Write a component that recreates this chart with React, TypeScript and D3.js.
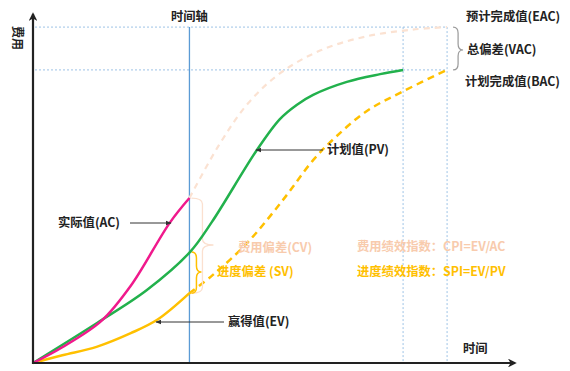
import React from 'react';
import * as d3 from 'd3';

const W = 570;
const H = 371;

// time (0..99) and cost (0..100) values
const pvTime = [0, 13.1, 23.3, 32.1, 36.6, 45.8, 50.5, 54, 57.3, 64.2, 71, 75.7];
const pvCost = [0, 11.4, 20.8, 31.6, 40.2, 60.7, 69.5, 73.6, 76.4, 80.1, 82.3, 83.5];

const acTime = [0, 6, 14, 20, 28, 32];
const acCost = [0, 4.5, 12, 22, 40, 47];

const evTime = [0, 6, 13, 20, 25.4, 32];
const evCost = [0, 2.2, 4.6, 8.5, 12.3, 19.9];

const evForecastTime = [32, 36.8, 43.8, 51.1, 57.3, 62, 68.3, 75.7, 84.7];
const evForecastCost = [19.9, 25.1, 34.2, 46.4, 57.8, 64.5, 71.8, 77.4, 83.5];

const eacForecastTime = [32, 38, 44, 50.5, 58.7, 68, 77.7, 84.7];
const eacForecastCost = [47, 62, 74, 82.5, 89, 93, 95, 95.7];

const nowTime = 32;
const bacTime = 75.7;
const eacTime = 84.7;
const bacCost = 83.5;
const eacCost = 95.7;

const rightLabels = ['预计完成值(EAC)', '总偏差(VAC)', '计划完成值(BAC)'];

const font = '"Noto Sans CJK SC", "Noto Sans", sans-serif';

const x = d3.scaleLinear().domain([0, 99]).range([33, 517]);
const y = d3.scaleLinear().domain([0, 100]).range([363, 12]);

const zip = (t: number[], v: number[]) => t.map((d, i) => [d, v[i]] as [number, number]);

const line = d3
  .line<[number, number]>()
  .x(d => x(d[0]))
  .y(d => y(d[1]))
  .curve(d3.curveCatmullRom.alpha(0.5));

// curly brace opening to the left, tip to the right
const brace = (x0: number, y0: number, y1: number, w: number, ym: number) => {
  const xm = x0 + w / 2;
  const r = Math.min(6, (y1 - y0) / 4);
  return `M${x0},${y0} Q${xm},${y0} ${xm},${y0 + r} L${xm},${ym - r} Q${xm},${ym} ${x0 + w},${ym}` +
    ` Q${xm},${ym} ${xm},${ym + r} L${xm},${y1 - r} Q${xm},${y1} ${x0},${y1}`;
};

const Label = ({ x: lx, y: ly, children, fill = '#222', anchor = 'start', size = 12.3 }: any) => (
  <text x={lx} y={ly} dy="0.35em" fill={fill} fontSize={size} fontWeight="bold" fontFamily={font} textAnchor={anchor}>
    {children}
  </text>
);

export default function App() {
  const xNow = x(nowTime);
  const xBac = x(bacTime);
  const xEac = x(eacTime);
  const yBac = y(bacCost);
  const yEac = y(eacCost);
  const yAcEnd = y(acCost[acCost.length - 1]);
  const yPvNow = y(pvCost[3]);
  const yEvEnd = y(evCost[evCost.length - 1]);

  return (
    <svg width={W} height={H} style={{ position: 'absolute', left: 0, top: 0, background: '#fff' }}>
      <defs>
        <marker id="arr" viewBox="0 0 10 10" refX="9" refY="5" markerWidth="6" markerHeight="6" orient="auto-start-reverse">
          <path d="M0,1 L10,5 L0,9 z" fill="#333" />
        </marker>
        <marker id="axarr" viewBox="0 0 10 10" refX="8" refY="5" markerWidth="4" markerHeight="4" orient="auto">
          <path d="M0,0 L10,5 L0,10 L3,5 z" fill="#222" />
        </marker>
      </defs>

      {/* reference dotted lines */}
      <g stroke="#9dc3e6" strokeWidth={1} strokeDasharray="2,2" fill="none">
        <line x1={35} x2={xEac} y1={yEac} y2={yEac} />
        <line x1={35} x2={xEac} y1={yBac} y2={yBac} />
        <line x1={xBac} x2={xBac} y1={yEac} y2={y(0)} />
        <line x1={xEac} x2={xEac} y1={yEac} y2={y(0)} />
      </g>

      {/* time-now line */}
      <line x1={xNow} x2={xNow} y1={yEac} y2={y(0)} stroke="#5b9bd5" strokeWidth={1.3} />
      <Label x={xNow} y={17} anchor="middle">时间轴</Label>

      {/* forecasts */}
      <path d={line(zip(eacForecastTime, eacForecastCost)) || ''} fill="none" stroke="#fbe2d2" strokeWidth={2.2} strokeDasharray="6,5" />
      <path d={line(zip(evForecastTime, evForecastCost)) || ''} fill="none" stroke="#ffc000" strokeWidth={2.5} strokeDasharray="7,5" />

      {/* braces */}
      <path d={brace(xNow + 2, yAcEnd, yEvEnd, 22, 245)} fill="none" stroke="#fbe0cf" strokeWidth={1.3} />
      <path d={brace(xNow + 2, yPvNow, yEvEnd, 10, 272)} fill="none" stroke="#ffc000" strokeWidth={1.5} />
      <path d={brace(xEac + 6, yEac, yBac, 10, 50)} fill="none" stroke="#999" strokeWidth={1.2} />

      {/* main curves */}
      <path d={line(zip(evTime, evCost)) || ''} fill="none" stroke="#ffc000" strokeWidth={2.5} />
      <path d={line(zip(pvTime, pvCost)) || ''} fill="none" stroke="#22b14c" strokeWidth={2.5} />
      <path d={line(zip(acTime, acCost)) || ''} fill="none" stroke="#f0198c" strokeWidth={2.5} />

      {/* axes */}
      <line x1={x(0)} x2={x(0)} y1={y(0) + 1} y2={y(100) + 2} stroke="#222" strokeWidth={2.2} markerEnd="url(#axarr)" />
      <line x1={x(0) - 1} x2={x(99) - 2} y1={y(0)} y2={y(0)} stroke="#222" strokeWidth={2.2} markerEnd="url(#axarr)" />
      <text transform="translate(17,38) rotate(90)" dy="0.35em" textAnchor="middle" fontSize={12} fontWeight="bold" fill="#222" fontFamily={font}>费用</text>
      <Label x={463} y={349}>时间</Label>

      {/* pointer arrows */}
      <g stroke="#333" strokeWidth={1} fill="none">
        <line x1={130} x2={171} y1={223} y2={223} markerEnd="url(#arr)" />
        <line x1={323} x2={256} y1={150} y2={150} markerEnd="url(#arr)" />
        <line x1={224} x2={156} y1={322} y2={322} markerEnd="url(#arr)" />
      </g>

      <Label x={58} y={223}>实际值(AC)</Label>
      <Label x={327} y={150}>计划值(PV)</Label>
      <Label x={228} y={322}>赢得值(EV)</Label>
      <Label x={238} y={248} fill="#f8cbad">费用偏差(CV)</Label>
      <Label x={217} y={272} fill="#ffc000">进度偏差 (SV)</Label>
      <Label x={357} y={247} fill="#f8cbad">费用绩效指数：CPI=EV/AC</Label>
      <Label x={357} y={272} fill="#ffc000">进度绩效指数：SPI=EV/PV</Label>

      <Label x={466} y={17}>{rightLabels[0]}</Label>
      <Label x={467} y={50}>{rightLabels[1]}</Label>
      <Label x={465} y={82}>{rightLabels[2]}</Label>
    </svg>
  );
}
